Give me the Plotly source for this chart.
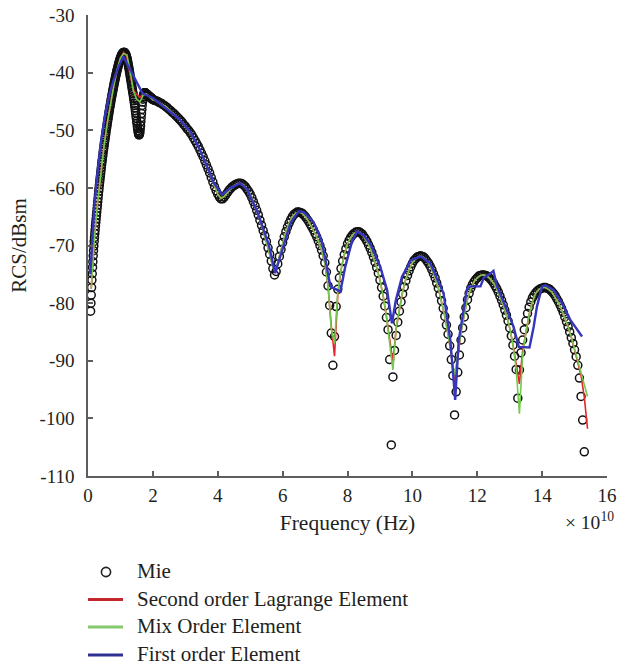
import numpy as np
import plotly.graph_objects as go

# Frequencies are in units of 1e10 Hz, RCS in dBsm.

# Mie series solution, sampled on three bands (start, step, values)
MIE_LOW_START, MIE_LOW_STEP = 0.08, 0.01
MIE_LOW = [
    -81.4, -80.0, -78.6, -77.3, -76.0, -74.9, -73.8, -72.8, -71.8, -70.9,
    -70.1, -69.3, -68.6, -67.9, -67.3, -66.6, -66.0, -65.4, -64.8, -64.2,
    -63.6, -63.0, -62.4, -61.8, -61.2, -60.6, -60.1, -59.5, -59.0, -58.5,
    -58.0, -57.5, -57.0, -56.5, -56.0, -55.5, -55.1, -54.6, -54.2, -53.7,
    -53.3, -52.9, -52.5, -52.1, -51.7, -51.3, -50.9, -50.5, -50.1, -49.7,
    -49.4, -49.0, -48.6, -48.2, -47.9, -47.5, -47.2, -46.8, -46.5, -46.1,
    -45.8, -45.5, -45.2, -44.8, -44.5, -44.2, -43.9, -43.6, -43.3, -43.0,
    -42.7, -42.4, -42.1, -41.8, -41.6, -41.3, -41.0, -40.7, -40.5, -40.2,
    -40.0, -39.7, -39.5, -39.3, -39.1, -38.8, -38.6, -38.4, -38.2, -38.0,
    -37.8, -37.6, -37.5, -37.3, -37.2, -37.0, -36.9, -36.8, -36.7, -36.6,
    -36.6, -36.5, -36.5, -36.5, -36.5, -36.5, -36.6, -36.7, -36.8, -36.9,
    -37.1, -37.3, -37.5, -37.7, -38.0, -38.3, -38.6, -38.9, -39.2, -39.5,
    -39.9, -40.2, -40.6, -40.9, -41.3, -41.6, -42.0, -42.3, -42.7, -43.0,
    -43.4, -43.7, -44.1, -44.5, -44.9, -45.3, -45.7, -46.1, -46.6, -47.0,
    -47.5, -47.9, -48.4, -48.8, -49.3, -49.7, -50.1, -50.4, -50.7, -50.8,
    -50.8, -50.6, -50.3, -49.8, -49.2, -48.5, -47.8, -47.1, -46.4, -45.7,
    -45.1, -44.6, -44.2, -43.9, -43.7, -43.6, -43.5, -43.5, -43.5, -43.5,
    -43.6, -43.6, -43.7, -43.7, -43.8, -43.8, -43.9, -43.9, -44.0, -44.0,
    -44.1, -44.1, -44.2, -44.2, -44.3, -44.3, -44.4, -44.4, -44.5, -44.5,
    -44.6, -44.6,
]
MIE_MID_START, MIE_MID_STEP = 2.0, 0.05
MIE_MID = [
    -44.7, -44.8, -44.9, -45.0, -45.2, -45.3, -45.5, -45.7, -45.9, -46.1,
    -46.4, -46.6, -46.9, -47.1, -47.4, -47.7, -48.0, -48.3, -48.6, -49.0,
    -49.3, -49.7, -50.0, -50.4, -50.8, -51.3, -51.8, -52.3, -52.8, -53.4,
    -54.0, -54.6, -55.3, -56.0, -56.7, -57.4, -58.2, -59.0, -59.8, -60.5,
    -61.1, -61.6, -61.9, -61.9, -61.6, -61.2, -60.8, -60.4, -60.1, -59.8,
    -59.6, -59.4, -59.3, -59.2, -59.2, -59.3, -59.5, -59.8, -60.2, -60.6,
    -61.1, -61.7, -62.4, -63.1, -63.9, -64.7, -65.6, -66.5, -67.4, -68.3,
    -69.3, -70.4, -71.5, -72.7, -74.0, -75.1, -74.5, -73.2, -71.9, -70.7,
    -69.5, -68.5, -67.6, -66.8, -66.1, -65.5, -65.0, -64.6, -64.4, -64.2,
    -64.2, -64.3, -64.4, -64.7, -65.0, -65.4, -65.8, -66.3, -66.8, -67.3,
    -67.9, -68.5, -69.2, -70.0, -70.8, -71.8, -73.0, -74.6, -77.0, -80.4,
    -85.2, -90.8, -85.8, -80.6, -77.6, -75.6, -74.0, -72.7, -71.6, -70.6,
]
MIE_HIGH_START, MIE_HIGH_STEP = 8.0, 0.05
MIE_HIGH = [
    -69.7, -69.1, -68.6, -68.2, -67.9, -67.7, -67.6, -67.6, -67.8, -68.0,
    -68.4, -68.8, -69.3, -69.9, -70.5, -71.2, -72.0, -72.9, -73.8, -74.8,
    -76.0, -77.3, -78.8, -80.5, -82.5, -84.6, -89.8, -104.6, -92.8, -88.2,
    -85.6, -83.3, -81.4, -79.8, -78.4, -77.2, -76.1, -75.2, -74.4, -73.7,
    -73.1, -72.6, -72.3, -72.0, -71.9, -71.8, -71.9, -72.0, -72.3, -72.7,
    -73.1, -73.6, -74.2, -74.9, -75.6, -76.5, -77.4, -78.5, -79.6, -80.9,
    -82.3, -83.8, -85.4, -87.4, -89.8, -92.6, -99.4, -95.4, -92.0, -89.0,
    -86.4, -84.3, -82.4, -80.8, -79.4, -78.3, -77.4, -76.8, -76.3, -75.9,
    -75.6, -75.3, -75.2, -75.1, -75.1, -75.2, -75.3, -75.5, -75.8, -76.1,
    -76.5, -77.0, -77.5, -78.1, -78.8, -79.5, -80.3, -81.2, -82.1, -83.1,
    -84.3, -85.7, -87.3, -89.2, -91.5, -96.5, -91.6, -88.6, -86.4, -84.6,
    -83.1, -81.8, -80.7, -79.8, -79.1, -78.6, -78.2, -77.9, -77.7, -77.5,
    -77.4, -77.3, -77.3, -77.4, -77.5, -77.7, -78.0, -78.3, -78.7, -79.2,
    -79.7, -80.3, -80.9, -81.6, -82.4, -83.2, -84.1, -85.0, -86.0, -87.0,
    -88.1, -89.3, -90.8, -93.0, -96.2, -100.3, -105.8,
]

# Second order Lagrange and mixed order elements, sampled every 0.1e10 Hz from 0.1e10
FEM_START, FEM_STEP = 0.1, 0.1
SECOND_ORDER = [
    -77.5, -68.6, -62.4, -57.0, -52.5, -48.6, -45.2, -42.1, -39.5, -37.5,
    -36.5, -37.3, -40.4, -43.0, -43.8, -44.3, -43.7, -43.7, -44.2, -44.7,
    -44.9, -45.2, -45.5, -45.9, -46.4, -46.9, -47.4, -48.0, -48.6, -49.3,
    -50.0, -50.8, -51.8, -52.8, -54.0, -55.3, -56.7, -58.2, -59.8, -61.1,
    -61.8, -61.5, -60.8, -60.1, -59.6, -59.3, -59.2, -59.5, -60.2, -61.1,
    -62.4, -63.9, -65.6, -67.4, -69.3, -71.5, -73.8, -74.3, -71.9, -69.5,
    -67.6, -66.1, -65.0, -64.4, -64.2, -64.4, -65.0, -65.8, -66.8, -67.9,
    -69.2, -70.8, -73.0, -77.0, -84.0, -89.2, -78.5, -74.2, -71.6, -69.7,
    -68.6, -67.9, -67.6, -67.8, -68.4, -69.3, -70.5, -72.0, -73.8, -76.0,
    -78.8, -82.3, -86.0, -90.2, -84.5, -81.0, -78.0, -75.8, -74.2, -73.0,
    -72.3, -71.9, -71.9, -72.3, -73.1, -74.2, -75.6, -77.4, -79.6, -82.3,
    -85.4, -89.0, -94.0, -89.0, -85.0, -82.0, -79.3, -77.5, -76.3, -75.6,
    -75.2, -75.1, -75.3, -75.8, -76.5, -77.5, -78.8, -80.3, -82.1, -84.3,
    -87.2, -90.8, -94.0, -88.2, -85.0, -82.0, -79.8, -78.3, -77.6, -77.3,
    -77.3, -77.6, -78.1, -78.9, -79.9, -81.1, -82.5, -84.1, -85.9, -87.9,
    -90.3, -92.6, -96.3, -101.8,
]
MIX_ORDER = [
    -77.5, -68.6, -62.4, -57.0, -52.5, -48.6, -45.2, -42.1, -39.5, -37.5,
    -36.7, -36.9, -39.8, -43.2, -44.6, -45.1, -43.9, -43.7, -44.2, -44.7,
    -44.9, -45.2, -45.5, -45.9, -46.4, -46.9, -47.4, -48.0, -48.6, -49.3,
    -50.0, -50.8, -51.8, -52.8, -54.0, -55.3, -56.7, -58.2, -59.8, -61.1,
    -61.8, -61.5, -60.8, -60.1, -59.6, -59.3, -59.2, -59.5, -60.2, -61.1,
    -62.4, -63.9, -65.6, -67.4, -69.3, -71.5, -73.8, -74.0, -71.9, -69.5,
    -67.6, -66.1, -65.0, -64.4, -64.2, -64.4, -65.0, -65.8, -66.8, -67.9,
    -69.2, -70.8, -73.0, -77.0, -84.5, -87.0, -78.0, -74.2, -71.6, -69.7,
    -68.6, -67.9, -67.6, -67.8, -68.4, -69.3, -70.5, -72.0, -73.8, -76.0,
    -78.8, -82.3, -86.5, -91.6, -84.2, -81.0, -78.0, -75.8, -74.2, -73.0,
    -72.3, -71.9, -71.9, -72.3, -73.1, -74.2, -75.6, -77.4, -79.6, -82.3,
    -85.4, -89.0, -92.5, -89.0, -85.0, -82.0, -79.3, -77.5, -76.3, -75.6,
    -75.2, -75.1, -75.3, -75.8, -76.5, -77.5, -78.8, -80.3, -82.1, -84.3,
    -87.2, -91.5, -99.2, -89.0, -85.0, -82.0, -79.8, -78.3, -77.6, -77.3,
    -77.3, -77.6, -78.1, -78.9, -79.9, -81.1, -82.5, -84.1, -85.9, -87.9,
    -90.3, -92.0, -94.2, -96.2,
]

# First order elements: coarser, irregular frequency samples
FIRST_ORDER_F = [
    0.07, 0.12, 0.20, 0.27, 0.40, 0.53, 0.65, 0.79, 0.94, 1.09,
    1.68, 2.00, 2.43, 2.80, 3.15, 3.40, 3.67, 3.87, 4.13, 4.40,
    4.69, 4.90, 5.21, 5.57, 5.77, 6.03, 6.25, 6.49, 6.65, 6.95,
    7.21, 7.37, 7.47, 7.78, 7.93, 8.14, 8.29, 8.50, 8.71, 9.01,
    9.22, 9.37, 9.49, 9.68, 9.95, 10.26, 10.55, 10.96, 11.17, 11.32,
    11.43, 11.58, 11.68, 11.73, 12.10, 12.20, 12.35, 12.50, 12.61, 12.87,
    13.12, 13.28, 13.61, 13.74, 13.84, 14.00, 14.10, 14.35, 14.61, 14.87,
    15.23,
]
FIRST_ORDER = [
    -75.0, -69.5, -63.0, -58.6, -52.0, -47.3, -44.0, -41.3, -39.0, -37.2,
    -43.6, -44.4, -46.4, -48.0, -50.2, -52.8, -56.3, -59.0, -61.2, -60.0,
    -59.2, -60.2, -64.0, -69.8, -74.8, -70.0, -66.0, -64.1, -64.2, -65.9,
    -69.3, -73.9, -77.1, -78.0, -73.7, -69.3, -67.6, -68.2, -69.8, -73.7,
    -77.7, -83.5, -79.5, -75.4, -72.6, -71.9, -73.1, -78.3, -86.4, -96.8,
    -86.4, -81.2, -77.7, -77.1, -77.1, -75.6, -75.1, -74.4, -77.1, -80.6,
    -84.1, -87.6, -87.7, -84.1, -80.6, -77.1, -76.9, -77.7, -80.0, -82.9,
    -85.8,
]

X_TICKS = [0, 2, 4, 6, 8, 10, 12, 14, 16]
Y_TICKS = [-110, -100, -90, -80, -70, -60, -50, -40, -30]
Y_TICK_TEXT = ["-110", "-100", "-90", "-80", "-70", "-60", "-50", "-40", "-30"]

NAMES = ["Mie", "Second order Lagrange Element", "Mix Order Element", "First order Element"]
LINE_COLORS = ["#e3262b", "#74c94e", "#3636bd"]
KEY_COLORS = ["#c4262d", "#86c86c", "#2e3192"]

FONT = "Liberation Serif, Times New Roman, serif"
TEXT = "#231f20"
AXIS_GREY = "#5e5e5e"

# figure geometry (pixels)
W, H = 618, 669
M_L, M_R, M_T, M_B = 88, 11, 15, 193
PW, PH = W - M_L - M_R, H - M_T - M_B


def px_x(px):
    return (px - M_L) / PW


def px_y(py):
    return (H - M_B - py) / PH


def band(start, step, values):
    return np.round(start + step * np.arange(len(values)), 3)


mie_f = np.concatenate([
    band(MIE_LOW_START, MIE_LOW_STEP, MIE_LOW),
    band(MIE_MID_START, MIE_MID_STEP, MIE_MID),
    band(MIE_HIGH_START, MIE_HIGH_STEP, MIE_HIGH),
])
mie_v = MIE_LOW + MIE_MID + MIE_HIGH

fig = go.Figure()

fig.add_trace(go.Scatter(
    x=mie_f, y=mie_v, mode="markers", showlegend=False, name=NAMES[0],
    marker=dict(symbol="circle-open", size=8, color="#111111", line=dict(width=1.5)),
))
fig.add_trace(go.Scatter(
    x=band(FEM_START, FEM_STEP, SECOND_ORDER), y=SECOND_ORDER, mode="lines",
    showlegend=False, name=NAMES[1], line=dict(color=LINE_COLORS[0], width=1.6),
))
fig.add_trace(go.Scatter(
    x=band(FEM_START, FEM_STEP, MIX_ORDER), y=MIX_ORDER, mode="lines",
    showlegend=False, name=NAMES[2], line=dict(color=LINE_COLORS[1], width=1.6),
))
fig.add_trace(go.Scatter(
    x=FIRST_ORDER_F, y=FIRST_ORDER, mode="lines",
    showlegend=False, name=NAMES[3], line=dict(color=LINE_COLORS[2], width=2.4),
))

axis_common = dict(
    showline=True, linecolor=AXIS_GREY, linewidth=1.5,
    ticks="inside", ticklen=5, tickwidth=1.5, tickcolor=AXIS_GREY,
    showgrid=False, zeroline=False, mirror=False, automargin=False,
    tickfont=dict(family=FONT, size=19, color=TEXT),
)

fig.update_xaxes(
    range=[0, 16], tickvals=X_TICKS, ticklabelstandoff=1,
    title=dict(text="Frequency (Hz)", font=dict(family=FONT, size=21.5, color=TEXT), standoff=10),
    **axis_common,
)
fig.update_yaxes(
    range=[-110, -30], tickvals=Y_TICKS, ticktext=Y_TICK_TEXT, ticklabelstandoff=8,
    title=dict(text="RCS/dBsm", font=dict(family=FONT, size=21, color=TEXT), standoff=7),
    **axis_common,
)

fig.add_annotation(
    text="× 10<sup>10</sup>", xref="paper", yref="paper", x=px_x(616), y=px_y(521),
    xanchor="right", yanchor="middle", showarrow=False,
    font=dict(family=FONT, size=19.5, color=TEXT),
)

# key below the plot: symbol column and label column
KEY_ROWS = [572, 599.5, 627, 655]
KEY_X0, KEY_X1, KEY_TEXT_X = 88, 123, 135
for i, (name, ky) in enumerate(zip(NAMES, KEY_ROWS)):
    if i == 0:
        cx, r = 106, 4.6
        fig.add_shape(
            type="circle", xref="paper", yref="paper",
            x0=px_x(cx - r), x1=px_x(cx + r), y0=px_y(ky + r), y1=px_y(ky - r),
            line=dict(color="#222222", width=1.6), fillcolor="rgba(0,0,0,0)",
        )
    else:
        fig.add_shape(
            type="line", xref="paper", yref="paper",
            x0=px_x(KEY_X0), x1=px_x(KEY_X1), y0=px_y(ky), y1=px_y(ky),
            line=dict(color=KEY_COLORS[i - 1], width=3),
        )
    fig.add_annotation(
        text=name, xref="paper", yref="paper", x=px_x(KEY_TEXT_X), y=px_y(ky - 1),
        xanchor="left", yanchor="middle", showarrow=False,
        font=dict(family=FONT, size=21, color=TEXT),
    )

fig.update_layout(
    width=W, height=H,
    margin=dict(l=M_L, r=M_R, t=M_T, b=M_B),
    paper_bgcolor="white", plot_bgcolor="white",
    showlegend=False,
)

fig.write_html("out.html")
